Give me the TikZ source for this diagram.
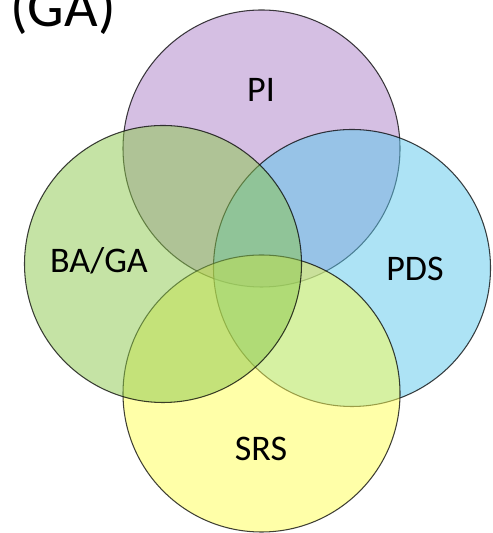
\documentclass[tikz,border=0pt]{standalone}
\usepackage{fontspec}
\setmainfont{Carlito}
\usetikzlibrary{positioning}

\definecolor{piC}{RGB}{171,127,199}
\definecolor{pdsC}{RGB}{91,199,235}
\definecolor{srsC}{RGB}{255,255,81}
\definecolor{bagaC}{RGB}{139,199,75}

\begin{document}
\begin{tikzpicture}[
    ring/.style={circle, draw=black, draw opacity=0.75, line width=0.6pt,
      fill opacity=0.5, minimum size=5.54cm, inner sep=0pt},
    tag/.style={font=\fontsize{20.5}{24}\selectfont, anchor=base, inner sep=0pt}
  ]
  \useasboundingbox (0,0) rectangle (9.84,10.66);
  \clip (0,0) rectangle (9.84,10.66);

  % circles
  \node[ring, fill=piC] (pi) at (5.23,7.69) {};
  \node[ring, fill=pdsC] (pds) at (7.04,5.30) {};
  \node[ring, fill=srsC] (srs) at (5.23,2.79) {};
  \node[ring, fill=bagaC] (baga) at (3.26,5.38) {};

  % labels
  \node[tag] (piT) at (5.22,8.62) {PI};
  \node[tag] (pdsT) at (8.30,5.04) {PDS};
  \node[tag] (srsT) at (5.22,1.44) {SRS};
  \node[tag] (bagaT) at (1.98,5.20) {BA/GA};

  % title fragment
  \node[font=\fontsize{33}{38}\selectfont, anchor=base west, inner sep=0pt]
    (title) at (0.20,10.12) {(GA)};
\end{tikzpicture}
\end{document}
